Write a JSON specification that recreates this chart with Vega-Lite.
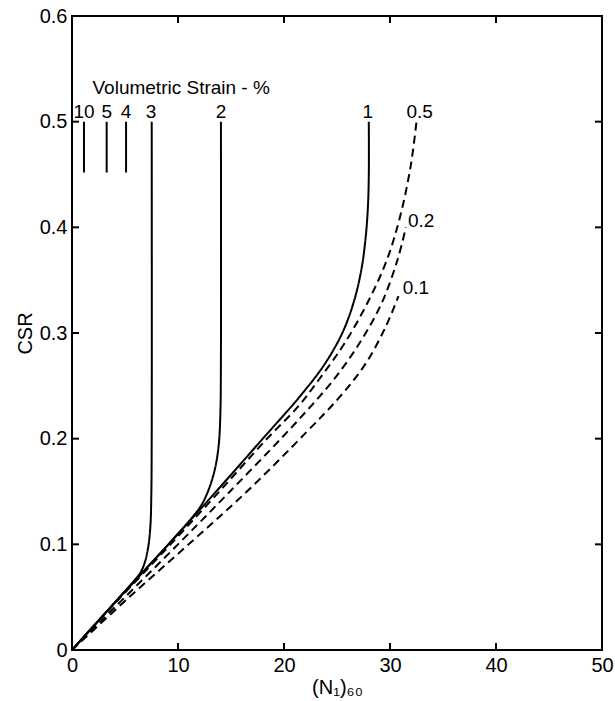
{
  "$schema": "https://vega.github.io/schema/vega-lite/v6.json",
  "width": 530,
  "height": 634,
  "autosize": "none",
  "padding": {"left": 72, "top": 16, "right": 13, "bottom": 51},
  "background": "white",
  "config": {
    "view": {"stroke": "black", "strokeWidth": 2},
    "font": "Liberation Sans"
  },
  "datasets": {
    "curves": [
      {"series": "3", "style": "solid", "i": 0, "x": 0, "y": 0},
      {"series": "3", "style": "solid", "i": 1, "x": 4.5, "y": 0.05},
      {"series": "3", "style": "solid", "i": 2, "x": 5.9, "y": 0.066},
      {"series": "3", "style": "solid", "i": 3, "x": 6.5, "y": 0.074},
      {"series": "3", "style": "solid", "i": 4, "x": 6.9, "y": 0.084},
      {"series": "3", "style": "solid", "i": 5, "x": 7.2, "y": 0.098},
      {"series": "3", "style": "solid", "i": 6, "x": 7.4, "y": 0.118},
      {"series": "3", "style": "solid", "i": 7, "x": 7.48, "y": 0.145},
      {"series": "3", "style": "solid", "i": 8, "x": 7.52, "y": 0.2},
      {"series": "3", "style": "solid", "i": 9, "x": 7.52, "y": 0.5},
      {"series": "2", "style": "solid", "i": 0, "x": 0, "y": 0},
      {"series": "2", "style": "solid", "i": 1, "x": 4.5, "y": 0.05},
      {"series": "2", "style": "solid", "i": 2, "x": 9.1, "y": 0.1},
      {"series": "2", "style": "solid", "i": 3, "x": 11.3, "y": 0.125},
      {"series": "2", "style": "solid", "i": 4, "x": 12.2, "y": 0.137},
      {"series": "2", "style": "solid", "i": 5, "x": 12.9, "y": 0.152},
      {"series": "2", "style": "solid", "i": 6, "x": 13.5, "y": 0.172},
      {"series": "2", "style": "solid", "i": 7, "x": 13.85, "y": 0.195},
      {"series": "2", "style": "solid", "i": 8, "x": 14.0, "y": 0.225},
      {"series": "2", "style": "solid", "i": 9, "x": 14.05, "y": 0.28},
      {"series": "2", "style": "solid", "i": 10, "x": 14.05, "y": 0.5},
      {"series": "1", "style": "solid", "i": 0, "x": 0, "y": 0},
      {"series": "1", "style": "solid", "i": 1, "x": 4.5, "y": 0.05},
      {"series": "1", "style": "solid", "i": 2, "x": 9.1, "y": 0.1},
      {"series": "1", "style": "solid", "i": 3, "x": 13.6, "y": 0.15},
      {"series": "1", "style": "solid", "i": 4, "x": 18.0, "y": 0.2},
      {"series": "1", "style": "solid", "i": 5, "x": 21.5, "y": 0.24},
      {"series": "1", "style": "solid", "i": 6, "x": 23.8, "y": 0.27},
      {"series": "1", "style": "solid", "i": 7, "x": 25.5, "y": 0.30},
      {"series": "1", "style": "solid", "i": 8, "x": 26.6, "y": 0.33},
      {"series": "1", "style": "solid", "i": 9, "x": 27.3, "y": 0.36},
      {"series": "1", "style": "solid", "i": 10, "x": 27.7, "y": 0.39},
      {"series": "1", "style": "solid", "i": 11, "x": 27.92, "y": 0.42},
      {"series": "1", "style": "solid", "i": 12, "x": 28.0, "y": 0.45},
      {"series": "1", "style": "solid", "i": 13, "x": 28.0, "y": 0.5},
      {"series": "0.5", "style": "dashed", "i": 0, "x": 0, "y": 0},
      {"series": "0.5", "style": "dashed", "i": 1, "x": 4.6, "y": 0.05},
      {"series": "0.5", "style": "dashed", "i": 2, "x": 9.3, "y": 0.1},
      {"series": "0.5", "style": "dashed", "i": 3, "x": 13.9, "y": 0.15},
      {"series": "0.5", "style": "dashed", "i": 4, "x": 18.4, "y": 0.2},
      {"series": "0.5", "style": "dashed", "i": 5, "x": 21.3, "y": 0.23},
      {"series": "0.5", "style": "dashed", "i": 6, "x": 23.3, "y": 0.256},
      {"series": "0.5", "style": "dashed", "i": 7, "x": 25.7, "y": 0.29},
      {"series": "0.5", "style": "dashed", "i": 8, "x": 28.0, "y": 0.331},
      {"series": "0.5", "style": "dashed", "i": 9, "x": 29.7, "y": 0.369},
      {"series": "0.5", "style": "dashed", "i": 10, "x": 30.95, "y": 0.41},
      {"series": "0.5", "style": "dashed", "i": 11, "x": 31.95, "y": 0.458},
      {"series": "0.5", "style": "dashed", "i": 12, "x": 32.5, "y": 0.5},
      {"series": "0.2", "style": "dashed", "i": 0, "x": 0, "y": 0},
      {"series": "0.2", "style": "dashed", "i": 1, "x": 5.0, "y": 0.05},
      {"series": "0.2", "style": "dashed", "i": 2, "x": 10.0, "y": 0.1},
      {"series": "0.2", "style": "dashed", "i": 3, "x": 14.9, "y": 0.15},
      {"series": "0.2", "style": "dashed", "i": 4, "x": 19.9, "y": 0.202},
      {"series": "0.2", "style": "dashed", "i": 5, "x": 22.2, "y": 0.227},
      {"series": "0.2", "style": "dashed", "i": 6, "x": 24.7, "y": 0.256},
      {"series": "0.2", "style": "dashed", "i": 7, "x": 27.1, "y": 0.29},
      {"series": "0.2", "style": "dashed", "i": 8, "x": 29.2, "y": 0.328},
      {"series": "0.2", "style": "dashed", "i": 9, "x": 30.7, "y": 0.369},
      {"series": "0.2", "style": "dashed", "i": 10, "x": 31.5, "y": 0.40},
      {"series": "0.1", "style": "dashed", "i": 0, "x": 0, "y": 0},
      {"series": "0.1", "style": "dashed", "i": 1, "x": 5.4, "y": 0.05},
      {"series": "0.1", "style": "dashed", "i": 2, "x": 11.0, "y": 0.1},
      {"series": "0.1", "style": "dashed", "i": 3, "x": 16.5, "y": 0.15},
      {"series": "0.1", "style": "dashed", "i": 4, "x": 22.0, "y": 0.205},
      {"series": "0.1", "style": "dashed", "i": 5, "x": 25.3, "y": 0.24},
      {"series": "0.1", "style": "dashed", "i": 6, "x": 27.7, "y": 0.271},
      {"series": "0.1", "style": "dashed", "i": 7, "x": 29.6, "y": 0.306},
      {"series": "0.1", "style": "dashed", "i": 8, "x": 30.8, "y": 0.335},
      {"series": "10", "style": "solid", "i": 0, "x": 1.13, "y": 0.5},
      {"series": "10", "style": "solid", "i": 1, "x": 1.13, "y": 0.452},
      {"series": "5", "style": "solid", "i": 0, "x": 3.27, "y": 0.5},
      {"series": "5", "style": "solid", "i": 1, "x": 3.27, "y": 0.452},
      {"series": "4", "style": "solid", "i": 0, "x": 5.1, "y": 0.5},
      {"series": "4", "style": "solid", "i": 1, "x": 5.1, "y": 0.452}
    ],
    "centerLabels": [
      {"text": "Volumetric Strain - %", "x": 10.3, "y": 0.532},
      {"text": "10", "x": 1.13, "y": 0.5095},
      {"text": "5", "x": 3.27, "y": 0.5095},
      {"text": "4", "x": 5.1, "y": 0.5095},
      {"text": "3", "x": 7.45, "y": 0.5095},
      {"text": "2", "x": 14.06, "y": 0.5095},
      {"text": "1", "x": 27.9, "y": 0.5095},
      {"text": "0.5", "x": 32.8, "y": 0.5095}
    ],
    "sideLabels": [
      {"text": "0.2", "x": 31.7, "y": 0.4056},
      {"text": "0.1", "x": 31.2, "y": 0.3425}
    ],
    "xTicks": [{"v": 10}, {"v": 20}, {"v": 30}, {"v": 40}],
    "yTicks": [{"v": 0.1}, {"v": 0.2}, {"v": 0.3}, {"v": 0.4}, {"v": 0.5}]
  },
  "layer": [
    {
      "data": {"name": "curves"},
      "mark": {"type": "line", "interpolate": "catmull-rom", "strokeWidth": 2, "color": "black"},
      "encoding": {
        "x": {
          "field": "x", "type": "quantitative",
          "scale": {"domain": [0, 50], "nice": false, "zero": false},
          "axis": {"orient": "bottom", "values": [0, 10, 20, 30, 40, 50], "grid": false, "domain": false,
                   "ticks": false, "tickSize": 0,
                   "labelPadding": 5, "labelFont": "Liberation Sans", "labelFontSize": 20, "labelColor": "black",
                   "labelFlush": false, "labelOverlap": false,
                   "title": "(N₁)₆₀", "titlePadding": 2, "titleFont": "Liberation Sans", "titleFontSize": 20,
                   "titleFontWeight": "normal", "titleColor": "black"}
        },
        "y": {
          "field": "y", "type": "quantitative",
          "scale": {"domain": [0, 0.6], "nice": false, "zero": false},
          "axis": {"orient": "left", "values": [0, 0.1, 0.2, 0.3, 0.4, 0.5, 0.6], "grid": false, "domain": false,
                   "ticks": false, "tickSize": 0,
                   "labelPadding": 5, "labelFont": "Liberation Sans", "labelFontSize": 20, "labelColor": "black",
                   "labelFlush": false, "labelOverlap": false,
                   "labelExpr": "datum.value == 0 ? '0' : format(datum.value, '.1f')",
                   "title": "CSR", "titlePadding": 4, "titleFont": "Liberation Sans", "titleFontSize": 20,
                   "titleFontWeight": "normal", "titleColor": "black"}
        },
        "detail": {"field": "series"},
        "order": {"field": "i", "type": "quantitative"},
        "strokeDash": {
          "field": "style", "type": "nominal",
          "scale": {"domain": ["solid", "dashed"], "range": [[1, 0], [8, 5]]},
          "legend": null
        }
      }
    },
    {
      "data": {"name": "xTicks"},
      "mark": {"type": "tick", "orient": "vertical", "size": 7, "thickness": 2, "color": "black", "opacity": 1, "yOffset": -3.5},
      "encoding": {
        "x": {"field": "v", "type": "quantitative"},
        "y": {"datum": 0, "type": "quantitative"}
      }
    },
    {
      "data": {"name": "xTicks"},
      "mark": {"type": "tick", "orient": "vertical", "size": 7, "thickness": 2, "color": "black", "opacity": 1, "yOffset": 3.5},
      "encoding": {
        "x": {"field": "v", "type": "quantitative"},
        "y": {"datum": 0.6, "type": "quantitative"}
      }
    },
    {
      "data": {"name": "yTicks"},
      "mark": {"type": "tick", "orient": "horizontal", "size": 7, "thickness": 2, "color": "black", "opacity": 1, "xOffset": 3.5},
      "encoding": {
        "y": {"field": "v", "type": "quantitative"},
        "x": {"datum": 0, "type": "quantitative"}
      }
    },
    {
      "data": {"name": "yTicks"},
      "mark": {"type": "tick", "orient": "horizontal", "size": 7, "thickness": 2, "color": "black", "opacity": 1, "xOffset": -3.5},
      "encoding": {
        "y": {"field": "v", "type": "quantitative"},
        "x": {"datum": 50, "type": "quantitative"}
      }
    },
    {
      "data": {"name": "centerLabels"},
      "mark": {"type": "text", "fontSize": 19, "align": "center", "baseline": "middle", "color": "black", "font": "Liberation Sans"},
      "encoding": {
        "x": {"field": "x", "type": "quantitative"},
        "y": {"field": "y", "type": "quantitative"},
        "text": {"field": "text"}
      }
    },
    {
      "data": {"name": "sideLabels"},
      "mark": {"type": "text", "fontSize": 19, "align": "left", "baseline": "middle", "color": "black", "font": "Liberation Sans"},
      "encoding": {
        "x": {"field": "x", "type": "quantitative"},
        "y": {"field": "y", "type": "quantitative"},
        "text": {"field": "text"}
      }
    }
  ]
}
